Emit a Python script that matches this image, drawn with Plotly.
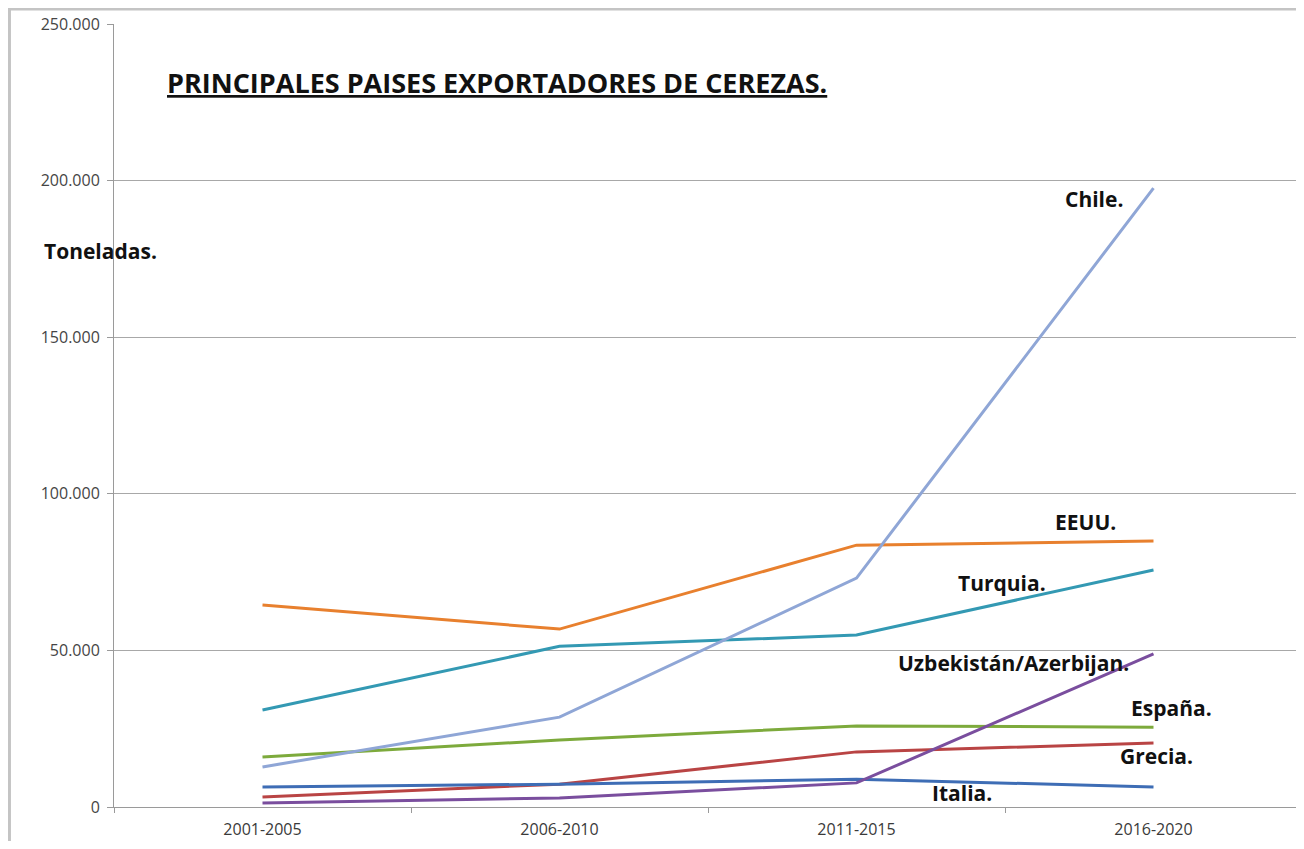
import plotly.graph_objects as go

periods = ["2001-2005", "2006-2010", "2011-2015", "2016-2020"]

eeuu = [64500, 56800, 83600, 84900]
turquia = [31000, 51300, 54900, 75700]
chile = [12800, 28700, 73100, 197600]
uzbekistan = [1300, 2900, 7700, 48900]
espana = [16000, 21400, 25900, 25500]
grecia = [3200, 7300, 17600, 20400]
italia = [6400, 7300, 8900, 6400]

series = [
    ("EEUU.", eeuu, "#E8802E"),
    ("Turquia.", turquia, "#3399B3"),
    ("España.", espana, "#7DAA3C"),
    ("Grecia.", grecia, "#B94444"),
    ("Italia.", italia, "#3E6DB5"),
    ("Chile.", chile, "#8FA6D6"),
    ("Uzbekistán/Azerbijan.", uzbekistan, "#7A4E9E"),
]

# label positions: (text, category index, value)
labels = [
    ("Chile.", 2.80, 194000),
    ("EEUU.", 2.77, 91000),
    ("Turquia.", 2.49, 71500),
    ("Uzbekistán/Azerbijan.", 2.53, 46000),
    ("España.", 3.06, 31600),
    ("Grecia.", 3.01, 16300),
    ("Italia.", 2.355, 4500),
]

FONT = "Open Sans"

fig = go.Figure()
for name, vals, col in series:
    fig.add_trace(go.Scatter(x=periods, y=vals, mode="lines", name=name,
                             line=dict(color=col, width=3)))

for text, xi, yv in labels:
    fig.add_annotation(x=xi, y=yv, xref="x", yref="y", text="<b>" + text + "</b>",
                       showarrow=False, xanchor="center", yanchor="middle",
                       font=dict(family=FONT, size=21, color="#111111"))

fig.add_annotation(x=0.0429, y=0.925, xref="paper", yref="paper",
                   xanchor="left", yanchor="middle",
                   text="<b><u>PRINCIPALES PAISES EXPORTADORES DE CEREZAS.</u></b>",
                   showarrow=False, font=dict(family=FONT, size=27, color="#111111"))
fig.add_annotation(x=-0.0606, y=0.71, xref="paper", yref="paper",
                   xanchor="left", yanchor="middle",
                   text="<b>Toneladas.</b>", showarrow=False,
                   font=dict(family=FONT, size=21, color="#111111"))

fig.add_shape(type="rect", xref="paper", yref="paper", x0=-0.0880, x1=0.9992,
              y0=-0.2, y1=1.019, line=dict(color="#C4C4C4", width=3), layer="below")

fig.update_layout(
    width=1296, height=833,
    margin=dict(l=106, r=2, t=16, b=34),
    paper_bgcolor="white", plot_bgcolor="white",
    showlegend=False,
    separators=",.",
    xaxis=dict(type="category", range=[-0.5, 3.5], tickson="boundaries",
               ticks="outside", ticklen=5, tickcolor="#9A9A9A",
               showgrid=False, showline=True, linecolor="#9A9A9A", linewidth=1,
               tickfont=dict(family=FONT, size=16, color="#3A3A3A"),
               ticklabelstandoff=8),
    yaxis=dict(range=[0, 250000], tickvals=[0, 50000, 100000, 150000, 200000, 250000],
               tickformat=",d", ticks="outside", ticklen=6, tickcolor="#9A9A9A",
               showgrid=True, gridcolor="#A8A8A8", gridwidth=1,
               showline=True, linecolor="#9A9A9A", linewidth=1, zeroline=False,
               tickfont=dict(family=FONT, size=16, color="#454545"),
               ticklabelstandoff=4),
)

fig.write_html("out.html")
